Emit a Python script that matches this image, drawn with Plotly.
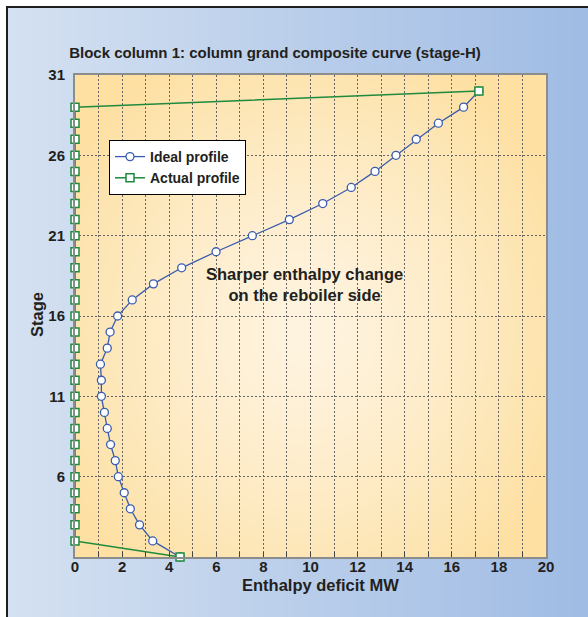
import base64
import struct
import zlib

import numpy as np
import plotly.graph_objects as go

# ---- data -------------------------------------------------------------
ideal_stage = list(range(1, 31))
ideal_deficit = [4.46, 3.30, 2.74, 2.35, 2.09, 1.84, 1.71, 1.51, 1.37, 1.25,
                 1.12, 1.12, 1.08, 1.37, 1.49, 1.81, 2.43, 3.33, 4.53, 5.99,
                 7.53, 9.10, 10.52, 11.73, 12.74, 13.63, 14.49, 15.43, 16.50, 17.15]

actual_stage = list(range(1, 31))
actual_deficit = [4.46] + [0.0] * 28 + [17.15]

x_ticks = list(range(0, 21, 2))
y_ticks = [6, 11, 16, 21, 26, 31]

title_text = "Block column 1: column grand composite curve (stage-H)"
note_text = "Sharper enthalpy change<br>on the reboiler side"

# ---- page geometry ----------------------------------------------------
W, H = 588, 617
ML, MR, MT, MB = 75, 42, 75, 60
PW, PH = W - ML - MR, H - MT - MB


def png_uri(rgb):
    """Encode an RGB uint8 array as a PNG data URI."""
    h, w, _ = rgb.shape
    raw = b"".join(b"\x00" + rgb[i].tobytes() for i in range(h))

    def chunk(tag, data):
        body = tag + data
        return struct.pack(">I", len(data)) + body + struct.pack(">I", zlib.crc32(body) & 0xFFFFFFFF)

    png = (b"\x89PNG\r\n\x1a\n"
           + chunk(b"IHDR", struct.pack(">IIBBBBB", w, h, 8, 2, 0, 0, 0))
           + chunk(b"IDAT", zlib.compress(raw, 9))
           + chunk(b"IEND", b""))
    return "data:image/png;base64," + base64.b64encode(png).decode()


# background: blue horizontal gradient, warm radial gradient in the plot area
yy, xx = np.mgrid[0:H, 0:W].astype(float)
t = (xx / (W - 1))[..., None]
blue_l = np.array([214.0, 226.0, 242.0])
blue_r = np.array([160.0, 188.0, 228.0])
img = blue_l + (blue_r - blue_l) * t

x0, x1, y0, y1 = ML, W - MR, MT, H - MB
inside = (xx >= x0) & (xx < x1) & (yy >= y0) & (yy < y1)
d = np.sqrt(((xx - 305) / 280.0) ** 2 + ((yy - 330) / 310.0) ** 2)
s = np.clip(d, 0, 1)[..., None] ** 1.4
warm_c = np.array([255.0, 244.0, 224.0])
warm_o = np.array([253.0, 224.0, 162.0])
warm = warm_c + (warm_o - warm_c) * s
img = np.where(inside[..., None], warm, img)

# outer frame: white margin, black rule on top and left
img[:6, :, :] = 255
img[:, :6, :] = 255
img[6:8, 6:, :] = 30
img[6:, 6:8, :] = 30
bg_uri = png_uri(np.clip(img, 0, 255).astype(np.uint8))

# ---- figure -----------------------------------------------------------
FONT = "Liberation Sans, Arial, sans-serif"
TXT = "#231f20"
BLUE = "#3a5cae"
GREEN = "#1e8a3e"
GRID = "#666666"

fig = go.Figure()
fig.add_trace(go.Scatter(
    x=ideal_deficit, y=ideal_stage, name="Ideal profile", mode="lines+markers",
    line=dict(color=BLUE, width=1.3),
    marker=dict(symbol="circle", size=8, color="white", line=dict(color=BLUE, width=1.3)),
    cliponaxis=False,
))
fig.add_trace(go.Scatter(
    x=actual_deficit, y=actual_stage, name="Actual profile", mode="lines+markers",
    line=dict(color=GREEN, width=1.5),
    marker=dict(symbol="square", size=8, color="white", line=dict(color=GREEN, width=1.5)),
    cliponaxis=False,
))

fig.update_layout(
    width=W, height=H,
    margin=dict(l=ML, r=MR, t=MT, b=MB),
    paper_bgcolor="white",
    plot_bgcolor="rgba(0,0,0,0)",
    font=dict(family=FONT, color=TXT),
    images=[dict(
        source=bg_uri, xref="paper", yref="paper",
        x=-ML / PW, y=1 + MT / PH, sizex=W / PW, sizey=H / PH,
        xanchor="left", yanchor="top", sizing="stretch", layer="below",
    )],
    title=dict(
        text=title_text, x=275 / W, xref="container", xanchor="center",
        y=1 - 53 / H, yref="container", yanchor="middle",
        font=dict(size=15, weight="bold", color=TXT),
    ),
    legend=dict(
        x=(109 - ML) / PW, y=1 - (140 - MT) / PH, xanchor="left", yanchor="top",
        bgcolor="white", bordercolor="black", borderwidth=1,
        font=dict(size=14, weight="bold", color=TXT),
        tracegroupgap=0,
    ),
    showlegend=True,
)

fig.update_xaxes(
    range=[0, 20], tickvals=x_ticks, ticks="inside", ticklen=5, tickcolor="#444",
    showgrid=True, gridcolor=GRID, gridwidth=1, griddash="2px,2px",
    minor=dict(dtick=1, tick0=0, showgrid=True, gridcolor=GRID, gridwidth=1,
               griddash="2px,2px", ticks="inside", ticklen=5, tickcolor="#444"),
    showline=True, linecolor="#8c8c8c", linewidth=2, mirror=True, zeroline=False,
    ticklabelstandoff=-5,
    tickfont=dict(size=15, weight="bold", color=TXT),
)
fig.update_yaxes(
    range=[1, 31], tickvals=y_ticks, ticks="",
    showgrid=True, gridcolor=GRID, gridwidth=1, griddash="2px,2px",
    showline=True, linecolor="#8c8c8c", linewidth=2, mirror=True, zeroline=False,
    ticklabelstandoff=5,
    tickfont=dict(size=15, weight="bold", color=TXT),
)

fig.add_annotation(
    text=note_text, x=9.74, y=17.94, xref="x", yref="y", showarrow=False,
    font=dict(size=16.5, weight="bold", color=TXT), align="center",
)
fig.add_annotation(
    text="Enthalpy deficit MW", x=(320.5 - ML) / PW, y=(H - MB - 585) / PH,
    xref="paper", yref="paper", showarrow=False, xanchor="center", yanchor="middle",
    font=dict(size=16.5, weight="bold", color=TXT),
)
fig.add_annotation(
    text="Stage", x=(37 - ML) / PW, y=(H - MB - 315) / PH, textangle=-90,
    xref="paper", yref="paper", showarrow=False, xanchor="center", yanchor="middle",
    font=dict(size=16.5, weight="bold", color=TXT),
)

fig.write_html("out.html")
